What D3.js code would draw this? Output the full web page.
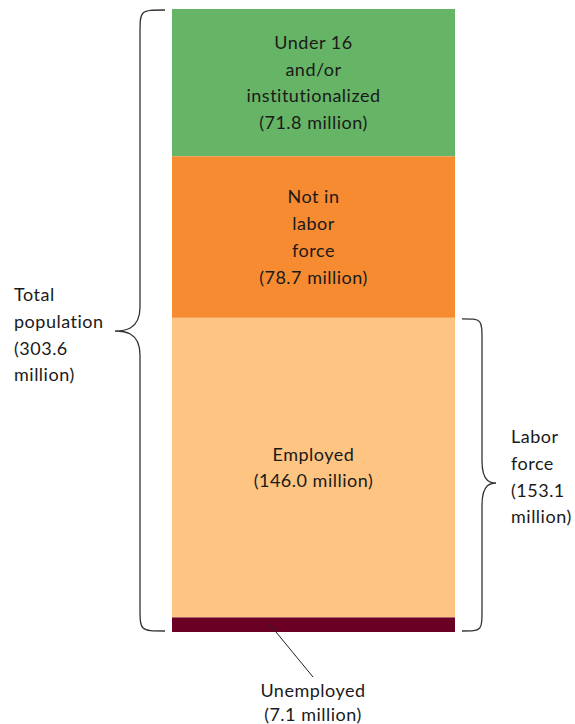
<!DOCTYPE html>
<html><head><meta charset="utf-8">
<script src="https://cdn.jsdelivr.net/npm/d3@7"></script>
<style>body{margin:0;background:#fff}svg{display:block}text{font-family:Lato,"Open Sans",sans-serif;fill:#1a1a1a;letter-spacing:0.5px}</style>
</head><body>
<svg id="c" width="575" height="724"></svg>
<script>
const categories = ["Under 16 and/or institutionalized", "Not in labor force", "Employed", "Unemployed"];
const values = [71.8, 78.7, 146.0, 7.1];
const colors = ["#66b465", "#f68b32", "#fdc482", "#6b0025"];
const labelLines = [
  ["Under 16", "and/or", "institutionalized", "(71.8 million)"],
  ["Not in", "labor", "force", "(78.7 million)"],
  ["Employed", "(146.0 million)"],
  []
];
const totalLabel = ["Total", "population", "(303.6", "million)"];
const laborLabel = ["Labor", "force", "(153.1", "million)"];
const unemployedLabel = ["Unemployed", "(7.1 million)"];
const total = 303.6;

const svg = d3.select("#c");
const barX0 = 172, barX1 = 455, barTop = 9, barBottom = 632;
const y = d3.scaleLinear().domain([0, total]).range([barTop, barBottom]);
const lh = 26.8, fs = 18;

let cum = 0;
const segs = values.map((v, i) => { const s = {i, v, y0: cum, y1: cum + v}; cum += v; return s; });

svg.selectAll("rect.seg").data(segs).join("rect")
  .attr("x", barX0).attr("width", barX1 - barX0)
  .attr("y", d => y(d.y0)).attr("height", d => y(d.y1) - y(d.y0))
  .attr("fill", d => colors[d.i]);

const cx = (barX0 + barX1) / 2;
segs.forEach(s => {
  const lines = labelLines[s.i];
  if (!lines.length) return;
  const mid = (y(s.y0) + y(s.y1)) / 2;
  const startY = mid - (lines.length - 1) * lh / 2 + fs * 0.35;
  svg.append("text").attr("text-anchor", "middle").attr("font-size", fs)
    .selectAll("tspan").data(lines).join("tspan")
    .attr("x", cx).attr("y", (d, k) => startY + k * lh).text(d => d);
});

function brace(xe, xs, xt, ya, yb, yt, r) {
  const d = d3.path();
  d.moveTo(xe, ya);
  d.bezierCurveTo(xs, ya, xs, ya, xs, ya + r);
  d.lineTo(xs, yt - r);
  d.bezierCurveTo(xs, yt, xt + (xs - xt) * 0.3, yt, xt, yt);
  d.bezierCurveTo(xt + (xs - xt) * 0.3, yt, xs, yt, xs, yt + r);
  d.lineTo(xs, yb - r);
  d.bezierCurveTo(xs, yb, xs, yb, xe, yb);
  return d.toString();
}
const stroke = "#333";
svg.append("path").attr("fill", "none").attr("stroke", stroke).attr("stroke-width", 1.3)
  .attr("d", brace(165, 140, 115, y(0) + 1, y(total) - 1, 331, 24));
const lfStart = values[0] + values[1];
svg.append("path").attr("fill", "none").attr("stroke", stroke).attr("stroke-width", 1.3)
  .attr("d", brace(462, 482, 496, y(lfStart) + 1, y(total) - 1, 483, 22));

svg.append("text").attr("font-size", fs)
  .selectAll("tspan").data(totalLabel).join("tspan")
  .attr("x", 14).attr("y", (d, k) => 301 + k * lh).text(d => d);
svg.append("text").attr("font-size", fs)
  .selectAll("tspan").data(laborLabel).join("tspan")
  .attr("x", 511).attr("y", (d, k) => 443 + k * lh).text(d => d);

const un = segs[3];
svg.append("line").attr("x1", 270).attr("y1", (y(un.y0) + y(un.y1)) / 2)
  .attr("x2", 313).attr("y2", 677).attr("stroke", "#222").attr("stroke-width", 1);
svg.append("text").attr("text-anchor", "middle").attr("font-size", fs)
  .selectAll("tspan").data(unemployedLabel).join("tspan")
  .attr("x", 313).attr("y", (d, k) => 697 + k * 24).text(d => d);
</script>
</body></html>
